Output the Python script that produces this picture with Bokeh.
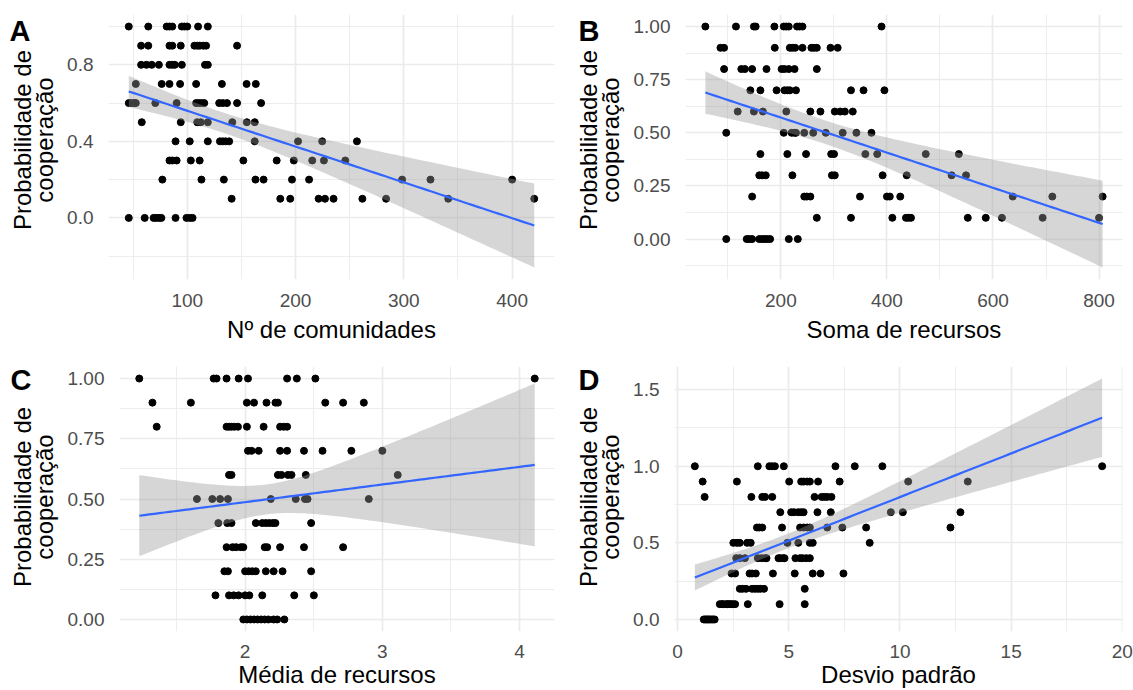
import numpy as np
from bokeh.plotting import figure
from bokeh.layouts import row, column
from bokeh.models import FixedTicker, NumeralTickFormatter, Range1d
from bokeh.core.properties import value
from bokeh.embed import file_html
from bokeh.resources import INLINE

# ---------------- data ----------------
# Panel A: number of communities vs probability of cooperation
a_x = [46, 64, 81, 83.6, 86.2, 95, 97.4, 100, 110, 119,
       57.4, 64, 83.6, 86.2, 94, 106.6, 109.2, 111.5, 114.8, 117.4, 146,
       57.4, 62.3, 67.2, 73.8, 83.6, 86.2, 88.5, 95, 116.4, 119,
       52.5, 76.4, 83.6, 93.4, 108.2, 132, 154.8, 163.3,
       46, 48.2, 50.8, 52.5, 70.5, 90.2, 108.2, 110.5, 113.1, 115.7, 129.5, 132.8, 136.7, 146, 168.2,
       58, 94, 109.2, 112.5, 119, 141.6, 155, 162.3,
       89.2, 102.3, 119, 130.2, 132.8, 135.4, 138.7, 162.3, 202.3, 224.6, 256.7,
       83.6, 86.2, 90.2, 103.3, 111.5, 151.8, 182.6, 198.4, 215.4, 226.2, 245.9,
       77, 113.1, 133.8, 163, 170.5, 196.7, 212.5, 298.4, 324.6, 400,
       141, 185.9, 195.1, 221.3, 227.2, 235.1, 261.7, 283.6, 341, 420.4,
       46, 60.7, 68.9, 71.1, 73.8, 76.1, 89.2, 99.3, 102.3, 104.9]
a_y = [1.0, 1.0, 1.0, 1.0, 1.0, 1.0, 1.0, 1.0, 1.0, 1.0,
       0.9, 0.9, 0.9, 0.9, 0.9, 0.9, 0.9, 0.9, 0.9, 0.9, 0.9,
       0.8, 0.8, 0.8, 0.8, 0.8, 0.8, 0.8, 0.8, 0.8, 0.8,
       0.7, 0.7, 0.7, 0.7, 0.7, 0.7, 0.7, 0.7,
       0.6, 0.6, 0.6, 0.6, 0.6, 0.6, 0.6, 0.6, 0.6, 0.6, 0.6, 0.6, 0.6, 0.6, 0.6,
       0.5, 0.5, 0.5, 0.5, 0.5, 0.5, 0.5, 0.5,
       0.4, 0.4, 0.4, 0.4, 0.4, 0.4, 0.4, 0.4, 0.4, 0.4, 0.4,
       0.3, 0.3, 0.3, 0.3, 0.3, 0.3, 0.3, 0.3, 0.3, 0.3, 0.3,
       0.2, 0.2, 0.2, 0.2, 0.2, 0.2, 0.2, 0.2, 0.2, 0.2,
       0.1, 0.1, 0.1, 0.1, 0.1, 0.1, 0.1, 0.1, 0.1, 0.1,
       0.0, 0.0, 0.0, 0.0, 0.0, 0.0, 0.0, 0.0, 0.0, 0.0]

# Panel B: sum of resources
b_x = [57.6, 115.3, 149.2, 152.5, 187.8, 205.4, 210.2, 214.9, 230.5, 235.3, 240.7, 389.8,
       86.1, 92.9, 188.5, 216.9, 221.7, 227.1, 240.7, 257.6, 262.4, 267.8, 293.6, 307.1,
       92.9, 125.4, 132.2, 145.8, 172.9, 201.4, 206.8, 214.9, 225.8, 267.8,
       142.4, 161.4, 191.9, 206.8, 212.2, 216.9, 228.5, 332.2, 355.9, 395.3,
       118.6, 149.2, 166.1, 210.2, 255.6, 274.6, 301.7, 311.9, 320.7, 335.6,
       97, 205.4, 220.3, 225.8, 228.5, 244.1, 261, 284.7, 316.6, 342.4, 370.8,
       161.4, 212.2, 247.5, 294.9, 300.3, 359.3, 381.7, 473.2, 535.6,
       159.3, 164.7, 171.5, 221.7, 296.3, 301.7, 391.9, 437.3, 522, 549.2,
       145.8, 244.1, 248.8, 255.6, 349.2, 400, 405.4, 425.1, 637.3, 711.9, 806.8,
       267.8, 332.2, 410.2, 435.9, 440.7, 445.4, 552.5, 586.4, 616.9, 693.6, 800,
       97, 135.6, 140.3, 145.8, 159.3, 164.7, 169.5, 174.2, 179.7, 214.9, 231.9]
b_y = [1.0, 1.0, 1.0, 1.0, 1.0, 1.0, 1.0, 1.0, 1.0, 1.0, 1.0, 1.0,
       0.9, 0.9, 0.9, 0.9, 0.9, 0.9, 0.9, 0.9, 0.9, 0.9, 0.9, 0.9,
       0.8, 0.8, 0.8, 0.8, 0.8, 0.8, 0.8, 0.8, 0.8, 0.8,
       0.7, 0.7, 0.7, 0.7, 0.7, 0.7, 0.7, 0.7, 0.7, 0.7,
       0.6, 0.6, 0.6, 0.6, 0.6, 0.6, 0.6, 0.6, 0.6, 0.6,
       0.5, 0.5, 0.5, 0.5, 0.5, 0.5, 0.5, 0.5, 0.5, 0.5, 0.5,
       0.4, 0.4, 0.4, 0.4, 0.4, 0.4, 0.4, 0.4, 0.4,
       0.3, 0.3, 0.3, 0.3, 0.3, 0.3, 0.3, 0.3, 0.3, 0.3,
       0.2, 0.2, 0.2, 0.2, 0.2, 0.2, 0.2, 0.2, 0.2, 0.2, 0.2,
       0.1, 0.1, 0.1, 0.1, 0.1, 0.1, 0.1, 0.1, 0.1, 0.1, 0.1,
       0.0, 0.0, 0.0, 0.0, 0.0, 0.0, 0.0, 0.0, 0.0, 0.0, 0.0]

# Panel C: mean resources
c_x = [1.229, 1.771, 1.792, 1.865, 1.953, 2.021, 2.306, 2.377, 2.512, 4.11,
       1.325, 1.605, 2.013, 2.065, 2.156, 2.221, 2.239, 2.584, 2.714, 2.865,
       1.356, 1.865, 1.883, 1.901, 1.922, 1.948, 2.013, 2.135, 2.255, 2.281, 2.306,
       2.021, 2.047, 2.099, 2.255, 2.306, 2.429, 2.564, 2.774, 3.0,
       1.883, 1.901, 2.239, 2.265, 2.312, 2.338, 2.442, 3.112,
       1.649, 1.761, 1.818, 1.875, 2.187, 2.369, 2.436, 2.455, 2.901,
       1.805, 1.870, 1.901, 2.078, 2.125, 2.151, 2.177, 2.203, 2.221, 2.481,
       1.865, 1.909, 1.935, 1.969, 1.987, 2.143, 2.161, 2.255, 2.429, 2.714,
       1.849, 1.875, 2.0, 2.026, 2.052, 2.078, 2.151, 2.208, 2.273, 2.481,
       1.784, 1.883, 1.917, 1.953, 2.0, 2.031, 2.125, 2.358, 2.501,
       1.987, 2.013, 2.039, 2.065, 2.091, 2.117, 2.143, 2.169, 2.208, 2.234, 2.286]
c_y = [1.0, 1.0, 1.0, 1.0, 1.0, 1.0, 1.0, 1.0, 1.0, 1.0,
       0.9, 0.9, 0.9, 0.9, 0.9, 0.9, 0.9, 0.9, 0.9, 0.9,
       0.8, 0.8, 0.8, 0.8, 0.8, 0.8, 0.8, 0.8, 0.8, 0.8, 0.8,
       0.7, 0.7, 0.7, 0.7, 0.7, 0.7, 0.7, 0.7, 0.7,
       0.6, 0.6, 0.6, 0.6, 0.6, 0.6, 0.6, 0.6,
       0.5, 0.5, 0.5, 0.5, 0.5, 0.5, 0.5, 0.5, 0.5,
       0.4, 0.4, 0.4, 0.4, 0.4, 0.4, 0.4, 0.4, 0.4, 0.4,
       0.3, 0.3, 0.3, 0.3, 0.3, 0.3, 0.3, 0.3, 0.3, 0.3,
       0.2, 0.2, 0.2, 0.2, 0.2, 0.2, 0.2, 0.2, 0.2, 0.2,
       0.1, 0.1, 0.1, 0.1, 0.1, 0.1, 0.1, 0.1, 0.1,
       0.0, 0.0, 0.0, 0.0, 0.0, 0.0, 0.0, 0.0, 0.0, 0.0, 0.0]

# Panel D: standard deviation (dense clusters hold overlapping points)
d_x = [0.78, 3.61, 4.13, 4.25, 4.38, 4.78, 7.10, 7.97, 9.21, 19.09,
       1.13, 2.67, 5.02, 5.56, 5.67, 5.83, 5.95, 6.32, 7.29, 10.37, 13.05,
       1.22, 3.32, 3.81, 3.94, 4.26, 6.16, 6.48, 6.60, 6.73, 6.92,
       4.62, 5.11, 5.24, 5.43, 5.56, 5.67, 6.29, 6.89, 9.59, 10.13, 12.72,
       3.57, 3.68, 3.81, 4.70, 5.51, 5.67, 5.83, 5.95, 6.73, 7.41, 8.48, 12.27,
       2.51, 2.67, 2.80, 3.13, 3.29, 4.94, 5.43, 5.95, 6.08, 8.64,
       2.64, 2.80, 3.03, 3.61, 3.78, 3.94, 4.00, 4.54, 4.62, 4.75, 4.81, 5.30, 5.51, 5.62, 5.79, 5.95,
       2.43, 2.59, 3.24, 3.35, 3.52, 4.29, 5.27, 6.08, 6.43, 7.46,
       2.80, 2.92, 3.08, 3.35, 3.48, 3.61, 3.73, 3.89, 5.72,
       1.90, 2.06, 2.19, 2.32, 2.48, 2.59, 3.16, 4.59, 5.72, 2.00, 2.25, 2.40,
       1.18, 1.30, 1.41, 1.54, 1.67, 1.24, 1.36, 1.47, 1.60]
d_y = [1.0, 1.0, 1.0, 1.0, 1.0, 1.0, 1.0, 1.0, 1.0, 1.0,
       0.9, 0.9, 0.9, 0.9, 0.9, 0.9, 0.9, 0.9, 0.9, 0.9, 0.9,
       0.8, 0.8, 0.8, 0.8, 0.8, 0.8, 0.8, 0.8, 0.8, 0.8,
       0.7, 0.7, 0.7, 0.7, 0.7, 0.7, 0.7, 0.7, 0.7, 0.7, 0.7,
       0.6, 0.6, 0.6, 0.6, 0.6, 0.6, 0.6, 0.6, 0.6, 0.6, 0.6, 0.6,
       0.5, 0.5, 0.5, 0.5, 0.5, 0.5, 0.5, 0.5, 0.5, 0.5,
       0.4, 0.4, 0.4, 0.4, 0.4, 0.4, 0.4, 0.4, 0.4, 0.4, 0.4, 0.4, 0.4, 0.4, 0.4, 0.4,
       0.3, 0.3, 0.3, 0.3, 0.3, 0.3, 0.3, 0.3, 0.3, 0.3,
       0.2, 0.2, 0.2, 0.2, 0.2, 0.2, 0.2, 0.2, 0.2,
       0.1, 0.1, 0.1, 0.1, 0.1, 0.1, 0.1, 0.1, 0.1, 0.1, 0.1, 0.1,
       0.0, 0.0, 0.0, 0.0, 0.0, 0.0, 0.0, 0.0, 0.0]

y_title = ["Probabilidade de", "cooperação"]
x_titles = ["Nº de comunidades", "Soma de recursos", "Média de recursos", "Desvio padrão"]
tags = ["A", "B", "C", "D"]

a_xticks = [100, 200, 300, 400]
a_yticks = [0.0, 0.4, 0.8]
b_xticks = [200, 400, 600, 800]
b_yticks = [0.0, 0.25, 0.5, 0.75, 1.0]
c_xticks = [2, 3, 4]
c_yticks = [0.0, 0.25, 0.5, 0.75, 1.0]
d_xticks = [0, 5, 10, 15, 20]
d_yticks = [0.0, 0.5, 1.0, 1.5]

FONT = "Liberation Sans"
GUTTER = 64


def t_quantile(df):
    z = 1.959964
    g1 = (z ** 3 + z) / 4
    g2 = (5 * z ** 5 + 16 * z ** 3 + 3 * z) / 96
    return z + g1 / df + g2 / df ** 2


def minors(ticks):
    step = ticks[1] - ticks[0]
    return [t - step / 2 for t in ticks] + [ticks[-1] + step / 2]


def lm_band(x, y):
    x = np.asarray(x, float)
    y = np.asarray(y, float)
    n = len(x)
    xm = x.mean()
    sxx = ((x - xm) ** 2).sum()
    slope = ((x - xm) * (y - y.mean())).sum() / sxx
    icpt = y.mean() - slope * xm
    resid = y - (icpt + slope * x)
    s2 = (resid ** 2).sum() / (n - 2)
    xs = np.linspace(x.min(), x.max(), 80)
    fit = icpt + slope * xs
    se = np.sqrt(s2 * (1.0 / n + (xs - xm) ** 2 / sxx))
    t = t_quantile(n - 2)
    return xs, fit, fit - t * se, fit + t * se


def gutter(tag, height, frame_top, frame_bottom, tag_x, tag_y):
    """Narrow text-only strip left of a panel: panel tag and y-axis title.
    Its scale is plain pixels, measured upward from the strip's bottom."""
    g = figure(width=GUTTER, height=height, output_backend="svg",
               toolbar_location=None, x_axis_type=None, y_axis_type=None,
               x_range=Range1d(0, GUTTER), y_range=Range1d(0, height),
               min_border=0)
    g.outline_line_color = None
    g.grid.visible = False
    g.background_fill_color = "white"
    g.border_fill_color = "white"
    g.text(x=[tag_x], y=[height - tag_y], text=[tag], text_font=value(FONT),
           text_font_size="29px", text_font_style="bold", text_color="black",
           text_baseline="middle", text_align="left")
    # rotated title, centred on the panel (renderer shifts it ~24px upward)
    mid = height - (frame_top + frame_bottom) / 2.0 - 24
    g.text(x=[22, 44], y=[mid, mid], text=y_title, angle=np.pi / 2,
           text_font=value(FONT), text_font_size="24px", text_color="black",
           text_baseline="middle", text_align="center")
    return g


def panel(x, y, xlabel, xticks, yticks, yfmt, width, height,
          bl, br, bt, bb, xstand, xlabstand):
    xs, fit, lo, hi = lm_band(x, y)
    xmin, xmax = min(x), max(x)
    xr = xmax - xmin
    ymin = min(min(y), lo.min())
    ymax = max(max(y), hi.max())
    yr = ymax - ymin
    p = figure(width=width, height=height, output_backend="svg",
               toolbar_location=None,
               x_range=Range1d(xmin - 0.05 * xr, xmax + 0.05 * xr),
               y_range=Range1d(ymin - 0.05 * yr, ymax + 0.05 * yr),
               min_border_left=bl, min_border_right=br,
               min_border_top=bt, min_border_bottom=bb)
    p.outline_line_color = None
    p.background_fill_color = "white"
    p.border_fill_color = "white"

    p.scatter(x, y, size=7, fill_color="black", line_color="black")
    p.varea(x=xs, y1=lo, y2=hi, fill_color="#999999", fill_alpha=0.4)
    p.line(xs, fit, line_color="#3366FF", line_width=2.2)

    p.xaxis.ticker = FixedTicker(ticks=xticks, minor_ticks=minors(xticks))
    p.yaxis.ticker = FixedTicker(ticks=yticks, minor_ticks=minors(yticks))
    p.xaxis.formatter = NumeralTickFormatter(format="0")
    p.yaxis.formatter = NumeralTickFormatter(format=yfmt)
    for ax in (p.xaxis[0], p.yaxis[0]):
        ax.axis_line_color = None
        ax.major_tick_line_color = None
        ax.minor_tick_line_color = None
        ax.major_label_text_font = FONT
        ax.major_label_text_font_size = "19px"
        ax.major_label_text_color = "#4D4D4D"
        ax.axis_label_text_font = FONT
        ax.axis_label_text_font_size = "24px"
        ax.axis_label_text_font_style = "normal"
        ax.axis_label_text_color = "black"
    p.xaxis.major_label_standoff = xstand
    p.yaxis.major_label_standoff = 9
    p.xaxis.axis_label = xlabel
    p.xaxis.axis_label_standoff = xlabstand
    for gr in (p.xgrid[0], p.ygrid[0]):
        gr.grid_line_color = "#EBEBEB"
        gr.grid_line_width = 1.7
        gr.minor_grid_line_color = "#EBEBEB"
        gr.minor_grid_line_width = 0.9
    return p


# row 1: frames at y 14..279 ; row 2 (starts at 360): frames at y 6..271
ga = gutter(tags[0], 360, 14, 279, 9, 23)
pa = panel(a_x, a_y, x_titles[0], a_xticks, a_yticks, "0.0",
           566 - GUTTER, 360, 105 - GUTTER, 12, 14, 81, 8, 6)
gb = gutter(tags[1], 360, 14, 279, 12, 23)
pb = panel(b_x, b_y, x_titles[1], b_xticks, b_yticks, "0.00",
           567 - GUTTER, 360, 118 - GUTTER, 11, 14, 81, 8, 6)
gc = gutter(tags[2], 330, 6, 271, 10, 17)
pc = panel(c_x, c_y, x_titles[2], c_xticks, c_yticks, "0.00",
           566 - GUTTER, 330, 117 - GUTTER, 12, 6, 59, 7, 0)
gd = gutter(tags[3], 330, 6, 271, 12, 17)
pd = panel(d_x, d_y, x_titles[3], d_xticks, d_yticks, "0.0",
           567 - GUTTER, 330, 106 - GUTTER, 11, 6, 59, 7, 0)

layout = column(row(ga, pa, gb, pb, spacing=0),
                row(gc, pc, gd, pd, spacing=0), spacing=0)
open("out.html", "w").write(file_html(layout, INLINE))
